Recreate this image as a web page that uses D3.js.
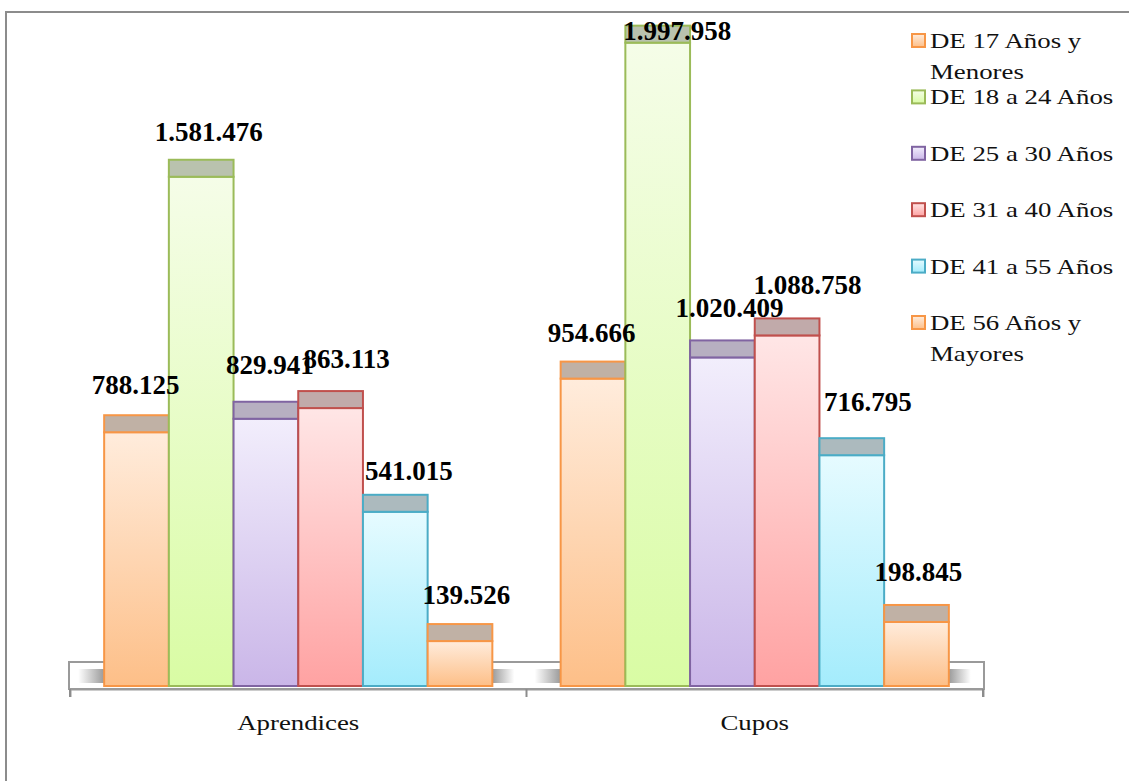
<!DOCTYPE html>
<html>
<head>
<meta charset="utf-8">
<script src="https://cdn.jsdelivr.net/npm/d3@7"></script>
<style>
  html, body { margin: 0; padding: 0; background: #fff; }
  svg { display: block; }
  text { font-family: "Times New Roman", "Liberation Serif", serif; }
</style>
</head>
<body>
<svg id="chart" width="1129" height="781"></svg>
<script>
// ---------- data ----------
const categories = ["Aprendices", "Cupos"];
const seriesNames = ["DE 17 Años y Menores", "DE 18 a 24 Años", "DE 25 a 30 Años",
                     "DE 31 a 40 Años", "DE 41 a 55 Años", "DE 56 Años y Mayores"];
const aprendicesValues = [788125, 1581476, 829941, 863113, 541015, 139526];
const cuposValues = [954666, 1997958, 1020409, 1088758, 716795, 198845];

// ---------- styles / layout ----------
const strokeColors = ["#f79646", "#9bbb59", "#8064a2", "#c0504d", "#4bacc6", "#f79646"];
const topColors    = ["#ffecdc", "#f5fde8", "#f2eefc", "#ffe6e6", "#e6fbff", "#ffecdc"];
const bottomColors = ["#fdbf88", "#d9fca4", "#cab6e8", "#ffa2a2", "#a4ecfc", "#fdbf88"];
const capColors    = ["#c0b1a5", "#b9c2ae", "#b7afc1", "#c1aaaa", "#acbabe", "#c0b1a5"];
// label nudges (projection artefacts of the original 3-D layout)
const labelDx = [[-1, 7.5, 4, 16, 13.5, 6.5], [-1.5, 19.5, 7, 20.5, 16, 2]];
const labelDy = [[-21, -19, -28, -23, -15, -20], [-20, 14, -23, -24, -27, -24]];
const textStretch = 1.22;   // the original's text is horizontally stretched

const fmt = v => d3.format(",")(v).replace(/,/g, ".");

const svg = d3.select("#chart");
const defs = svg.append("defs");

// frame
svg.append("rect").attr("x", 6).attr("y", 12).attr("width", 1140).attr("height", 800)
  .attr("fill", "none").attr("stroke", "#8c8c8c").attr("stroke-width", 2);

const baseY = 686;
const capH = 17;
const y = d3.scaleLinear().domain([0, 2000000]).range([baseY, 42]);
const x0 = d3.scaleBand().domain(categories).range([70, 983]).padding(0);
const x1 = d3.scaleBand().domain(d3.range(seriesNames.length))
  .range([0, x0.bandwidth()]).paddingInner(0).paddingOuter(0.528);

// gradients
seriesNames.forEach((s, i) => {
  const g = defs.append("linearGradient").attr("id", "g" + i)
    .attr("x1", 0).attr("y1", 0).attr("x2", 0).attr("y2", 1);
  g.append("stop").attr("offset", "0%").attr("stop-color", topColors[i]);
  g.append("stop").attr("offset", "100%").attr("stop-color", bottomColors[i]);
});
const shL = defs.append("linearGradient").attr("id", "shL").attr("x1", 0).attr("x2", 1).attr("y1", 0).attr("y2", 0);
shL.append("stop").attr("offset", "0%").attr("stop-color", "#ffffff");
shL.append("stop").attr("offset", "100%").attr("stop-color", "#9a9a9a");
const shR = defs.append("linearGradient").attr("id", "shR").attr("x1", 0).attr("x2", 1).attr("y1", 0).attr("y2", 0);
shR.append("stop").attr("offset", "0%").attr("stop-color", "#9a9a9a");
shR.append("stop").attr("offset", "100%").attr("stop-color", "#ffffff");

// floor
const floorTop = 662, floorBot = 689;
const [fx0, fx1] = x0.range();
svg.append("rect").attr("x", fx0 - 1).attr("y", floorTop).attr("width", fx1 - fx0 + 2).attr("height", floorBot - floorTop)
  .attr("fill", "#ffffff").attr("stroke", "#9a9a9a").attr("stroke-width", 2);

// floor shadows next to each group
categories.forEach(c => {
  const left = x0(c) + x1(0);
  const right = x0(c) + x1(seriesNames.length - 1) + x1.bandwidth();
  svg.append("rect").attr("x", left - 26).attr("y", 669).attr("width", 26).attr("height", 14).attr("fill", "url(#shL)");
  svg.append("rect").attr("x", right).attr("y", 669).attr("width", 22).attr("height", 14).attr("fill", "url(#shR)");
});

// bars
const data = categories.map((c, ci) => ({ cat: c, ci, vals: ci === 0 ? aprendicesValues : cuposValues }));
const groups = svg.selectAll("g.grp").data(data).join("g").attr("class", "grp")
  .attr("transform", d => `translate(${x0(d.cat)},0)`);

groups.each(function(d) {
  const g = d3.select(this);
  const items = d.vals.map((v, i) => ({ v, i }));
  const bars = g.selectAll("g.bar").data(items).join("g").attr("class", "bar");
  bars.append("rect")
    .attr("x", e => x1(e.i)).attr("y", e => y(e.v))
    .attr("width", x1.bandwidth()).attr("height", e => baseY - y(e.v))
    .attr("fill", e => `url(#g${e.i})`)
    .attr("stroke", e => strokeColors[e.i]).attr("stroke-width", 2);
  bars.append("rect")
    .attr("x", e => x1(e.i)).attr("y", e => y(e.v) - capH)
    .attr("width", x1.bandwidth()).attr("height", capH)
    .attr("fill", e => capColors[e.i])
    .attr("stroke", e => strokeColors[e.i]).attr("stroke-width", 2);
});

// labels (drawn on top of all bars)
data.forEach(d => {
  d.vals.forEach((v, i) => {
    svg.append("text")
      .attr("x", x0(d.cat) + x1(i) + x1.bandwidth() / 2 + labelDx[d.ci][i])
      .attr("y", y(v) - capH + labelDy[d.ci][i])
      .attr("text-anchor", "middle")
      .attr("font-size", 27).attr("font-weight", "bold").attr("fill", "#000")
      .text(fmt(v));
  });
});

// x axis
const axisG = svg.append("g").attr("transform", `translate(0,${floorBot})`)
  .call(d3.axisBottom(x0).tickSize(8).tickSizeOuter(8).tickFormat(""));
axisG.select(".domain").attr("stroke", "#9a9a9a").attr("stroke-width", 2);
axisG.selectAll(".tick").remove();
const bounds = categories.map(c => x0(c)).concat([x0.range()[1]]);
svg.selectAll("line.tk").data(bounds).join("line").attr("class", "tk")
  .attr("x1", d => d).attr("x2", d => d).attr("y1", floorBot).attr("y2", floorBot + 8)
  .attr("stroke", "#8c8c8c").attr("stroke-width", 2);
svg.selectAll("g.cat").data(categories).join("g").attr("class", "cat")
  .attr("transform", d => `translate(${x0(d) + x0.bandwidth() / 2},730) scale(${textStretch},1)`)
  .append("text")
  .attr("text-anchor", "middle").attr("font-size", 22).attr("fill", "#111")
  .text(d => d);

// legend
const legend = svg.append("g");
seriesNames.forEach((s, i) => {
  const ly = 40.5 + i * 56.4;
  legend.append("rect").attr("x", 912).attr("y", ly - 6.5).attr("width", 13).attr("height", 13)
    .attr("fill", `url(#g${i})`).attr("stroke", strokeColors[i]).attr("stroke-width", 2);
  const t = legend.append("g").attr("transform", `translate(930,${ly + 7.5}) scale(${textStretch},1)`)
    .append("text").attr("font-size", 22).attr("fill", "#111");
  const words = s.split(" ");
  let line = [], tspan = t.append("tspan").attr("x", 0).attr("dy", 0);
  words.forEach(w => {
    line.push(w);
    tspan.text(line.join(" "));
    if (tspan.node().getComputedTextLength() > 158 && line.length > 1) {
      line.pop();
      tspan.text(line.join(" "));
      line = [w];
      tspan = t.append("tspan").attr("x", 0).attr("dy", 31).text(w);
    }
  });
});
</script>
</body>
</html>
